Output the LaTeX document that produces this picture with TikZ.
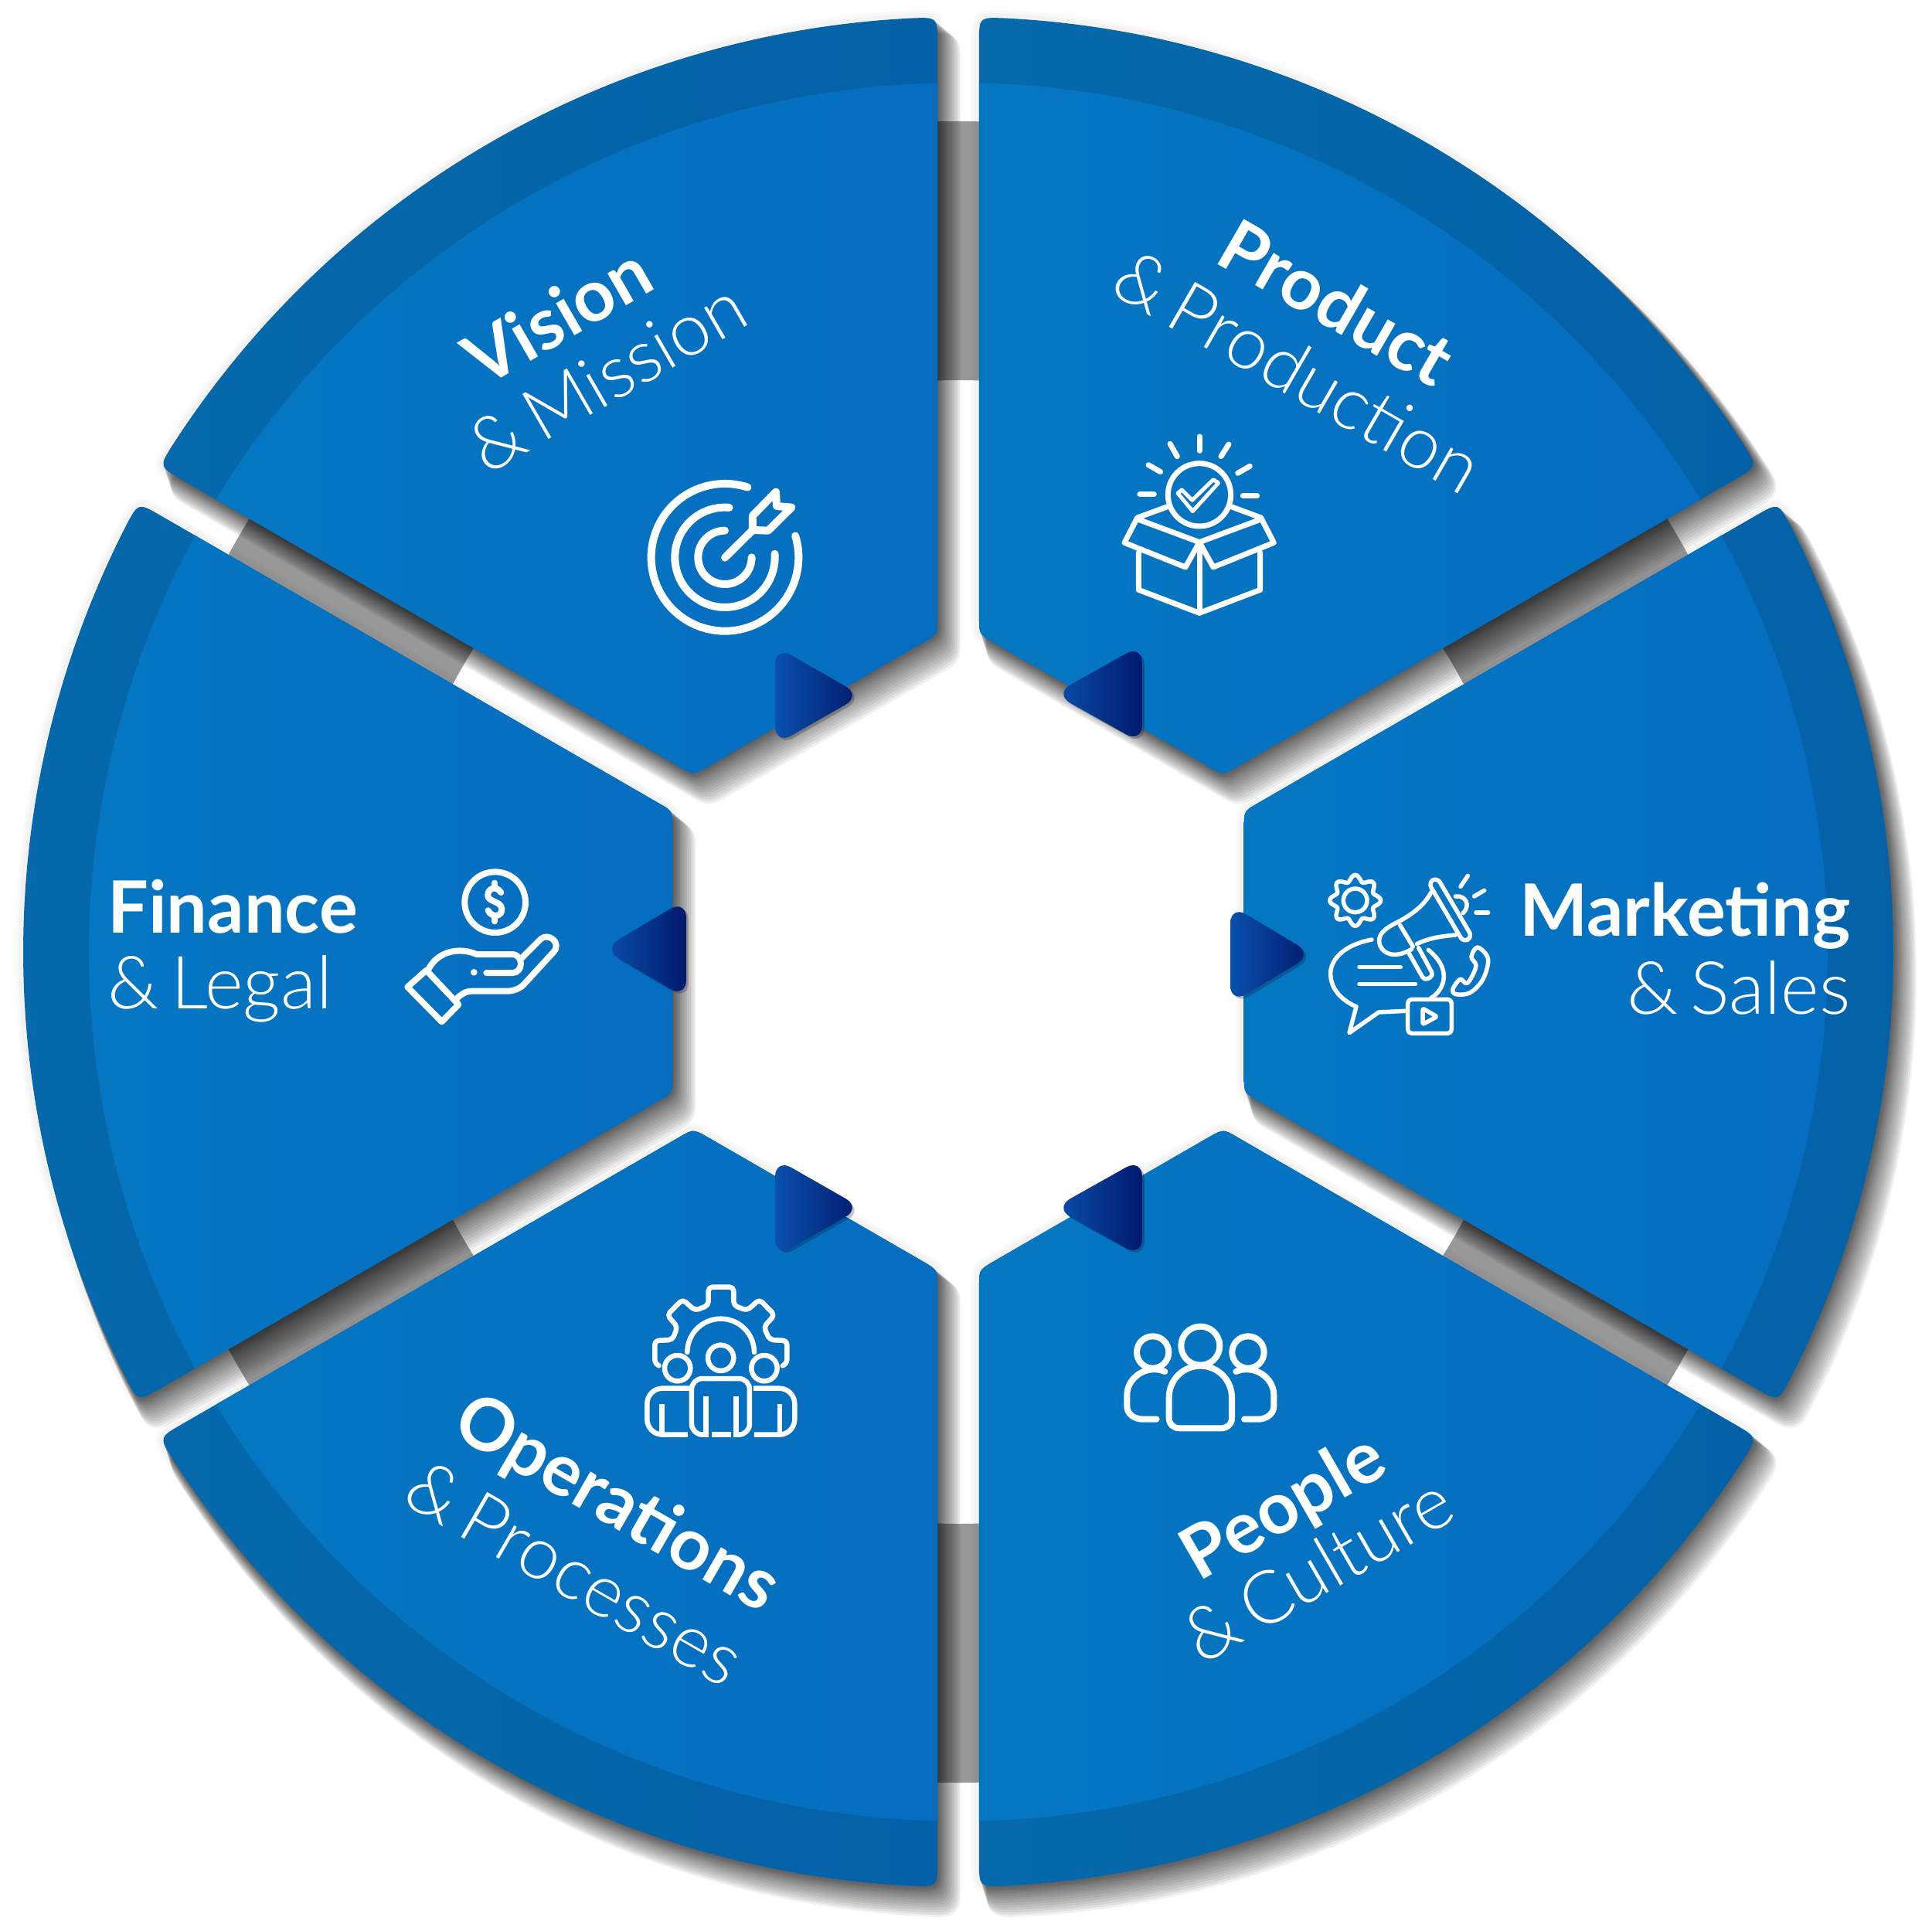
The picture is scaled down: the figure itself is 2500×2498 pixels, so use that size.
\documentclass[tikz,border=0pt]{standalone}
\usepackage{fontspec}
\setmainfont{Lato}
\newfontfamily\lblack{Lato Bold}
\newfontfamily\llight{Lato Light}
\definecolor{mainL}{HTML}{0477C2}
\definecolor{mainR}{HTML}{056DC0}
\definecolor{ringL}{HTML}{0569AB}
\definecolor{ringR}{HTML}{0461A7}
\definecolor{triL}{HTML}{0A50AD}
\definecolor{triR}{HTML}{001A6C}
\definecolor{bandgray}{HTML}{989898}
\newcommand{\amper}{\&\kern16pt}
\newcommand{\petal}[1]{(#1+28.69:1178) .. controls (#1+28.72:1210) .. (#1+27.2:1210) arc[start angle=#1+27.2,end angle=#1-27.2,radius=1210] .. controls (#1-28.72:1210) .. (#1-28.69:1178) -- (#1-26.42:432.5) .. controls (#1-26.25:412.5) .. (#1-23.7:403.7) -- (#1+23.7:403.7) .. controls (#1+26.25:412.5) .. (#1+26.42:432.5) -- cycle}
\newcommand{\core}[1]{(#1+28.625:1125) arc[start angle=#1+28.625,end angle=#1-28.625,radius=1125] -- (#1-26.42:432.5) .. controls (#1-26.25:412.5) .. (#1-23.7:403.7) -- (#1+23.7:403.7) .. controls (#1+26.25:412.5) .. (#1+26.42:432.5) -- cycle}
\tikzset{
  img/.style={shift={(-1240,1232)},y=-1pt},
  icoat/.style 2 args={shift={(#1-1240,1232-#2)},x=0.33333pt,y=-0.33333pt},
  ico/.style={draw=white,line cap=round,line join=round,line width=#1},
  hd/.style={text=white,inner sep=0pt,font=\lblack\fontsize{93.5}{105}\selectfont},
  lt/.style={text=white,inner sep=0pt,font=\llight\fontsize{95}{105}\selectfont},
  tri/.style={left color=triL,right color=triR,rounded corners=24pt},
  trishadow/.style={fill=black,opacity=.22,rounded corners=24pt}
}
\begin{document}
\begin{tikzpicture}[x=1pt,y=1pt]
\path[use as bounding box,fill=white] (-1240,1232) rectangle (1260,-1266);
% grey ring seen through the gaps
\fill[bandgray,even odd rule] (0,0) circle[radius=1075] (0,0) circle[radius=740];
% faint halo
\foreach \w in {20,12}{
  \begin{scope}[transparency group,opacity=.025]
  \foreach \th in {120,60,0,-60,-120,180}{
    \path[fill=black,draw=black,line join=round,line width=\w pt] \petal{\th};
  }
  \end{scope}
}
% soft shadows: the petals slid right and down in small steps
\foreach \s in {0.06,0.12,0.18,0.25,0.32,0.39,0.46,0.54,0.62,0.70,0.78,0.86,0.93,1.0}{
  \begin{scope}[shift={({\s*20},{-\s*30})},transparency group,opacity=.06]
  \foreach \th in {120,60,0,-60,-120,180}{
    \path[fill=black,draw=black,line join=round,line width={\s*20 pt}] \petal{\th};
  }
  \end{scope}
}
% petals
\foreach \th in {120,60,0,-60,-120,180}{
  \path[left color=ringL,right color=ringR] \petal{\th};
  \path[left color=mainL,right color=mainR] \core{\th};
}
% triangles
\begin{scope}[img]
\newcommand{\trgR}[3]{%
  \path[trishadow,shift={(3,3)}] (#1,#2-64) -- (#1+#3,#2) -- (#1,#2+64) -- cycle;
  \path[tri] (#1,#2-64) -- (#1+#3,#2) -- (#1,#2+64) -- cycle;}
\newcommand{\trgL}[3]{%
  \path[trishadow,shift={(3,3)}] (#1,#2-64) -- (#1-#3,#2) -- (#1,#2+64) -- cycle;
  \path[tri] (#1,#2-64) -- (#1-#3,#2) -- (#1,#2+64) -- cycle;}
\trgR{1003}{900}{112}
\trgL{1478}{898}{114}
\trgR{1592}{1235}{107}
\trgL{888}{1228}{108}
\trgR{1003}{1563}{112}
\trgL{1478}{1563}{114}
% labels
\node[hd,rotate=30]  (visionA) at (721,408) {Vision};
\node[lt,rotate=30]  (visionB) at (785,487) {\amper Mission};
\node[hd,rotate=-30] (productA) at (1730,391) {Product};
\node[lt,rotate=-30] (productB) at (1680,480) {\amper Production};
\node[hd,anchor=base east] (marketA) at (2395,1211) {Marketing};
\node[lt,anchor=base east] (marketB) at (2395,1312) {\amper Sales};
\node[hd,anchor=base west] (financeA) at (139,1207) {Finance};
\node[lt,anchor=base west] (financeB) at (139,1305) {\amper Legal};
\node[hd,rotate=-30] (opsA) at (797,1948) {Operations};
\node[lt,rotate=-30] (opsB) at (744,2035) {\amper Processes};
\node[hd,rotate=30]  (peopleA) at (1662,1953) {People};
\node[lt,rotate=30]  (peopleB) at (1705,2030) {\amper Culture};
\end{scope}
% target icon
\begin{scope}[icoat={780}{560}]
\draw[ico=10pt] (474,484) ++(-72:286) arc[start angle=-72,end angle=-377,radius=286];
\draw[ico=10pt] (474,484) ++(-85:194) arc[start angle=-85,end angle=-364,radius=194];
\draw[ico=10pt] (474,484) ++(-90:104) arc[start angle=-90,end angle=-360,radius=104];
\draw[ico=10pt] (474,485) -- (582,378);
\draw[ico=10pt] (582,322) -- (672,230) -- (675,285) -- (733,290) -- (642,380) -- (582,378) -- cycle;
\end{scope}
% box icon
\begin{scope}[icoat={1400}{530}]
\draw[ico=7pt] (456,331) circle[radius=122];
\draw[ico=5pt] (372,325) -- (388,312) -- (428,352) -- (510,272) -- (530,285) -- (430,395) -- cycle;
\foreach \p/\q in {{456,105}/{456,160},{342,133}/{370,182},{258,215}/{305,242},{225,330}/{280,330},{540,182}/{570,135},{605,247}/{652,220},{625,335}/{680,335}}{
  \draw[ico=7pt] (\p) -- (\q);}
\draw[ico=7pt] (330,378) -- (215,420) -- (165,517) -- (402,612) -- (456,515) -- (510,612) -- (745,517) -- (695,420) -- (582,378);
\draw[ico=7pt] (222,428) -- (456,515) -- (690,428);
\draw[ico=7pt] (220,555) -- (220,700) -- (456,790) -- (692,700) -- (692,555);
\draw[ico=7pt] (456,515) -- (456,790);
\end{scope}
% marketing icon
\begin{scope}[icoat={1680}{1090}]
\draw[ico=5.5pt] (221,226) circle[radius=46];
\draw[ico=5.5pt,smooth] plot[domain=0:360,samples=97] ({221+(87+12*cos(8*\x))*cos(\x)},{226+(87+12*cos(8*\x))*sin(\x)}) -- cycle;
\draw[ico=5.5pt,rounded corners=7pt] (539,137) -- (675,368) -- (641,388) -- (505,157) -- cycle;
\draw[ico=5.5pt] (515,195) .. controls (490,245) and (440,280) .. (395,305) .. controls (345,330) and (312,350) .. (314,385) .. controls (316,425) and (365,460) .. (440,415);
\draw[ico=5.5pt] (460,395) .. controls (510,370) and (560,365) .. (610,360);
\draw[ico=5.5pt] (395,322) -- (445,405);
\draw[ico=5.5pt,rounded corners=5pt] (430,432) -- (490,537) -- (525,517) -- (467,410);
\draw[ico=5.5pt] (610,210) .. controls (650,205) and (670,245) .. (640,275);
\foreach \p/\q in {{630,172}/{658,130},{683,210}/{722,187},{690,273}/{737,273},{237,485}/{397,485},{237,550}/{455,550}}{
  \draw[ico=5.5pt] (\p) -- (\q);}
\draw[ico=5.5pt] (285,378) .. controls (170,400) and (125,460) .. (125,510) .. controls (125,570) and (170,615) .. (225,638) -- (198,740) -- (312,660) -- (415,655);
\draw[ico=5.5pt] (505,418) .. controls (550,455) and (565,490) .. (565,520) .. controls (565,560) and (540,590) .. (515,605);
\draw[ico=5.5pt,rounded corners=5pt] (425,610) rectangle (595,742);
\draw[ico=5.5pt,rounded corners=2pt] (483,645) -- (538,677) -- (483,707) -- cycle;
\draw[ico=5.5pt] plot[smooth cycle,tension=.6] coordinates {(695,408) (732,440) (735,480) (712,540) (665,585) (612,590) (600,570) (628,532) (652,548) (672,525) (690,478) (672,445)};
\end{scope}
% hand icon
\begin{scope}[icoat={500}{1090}]
\draw[ico=8pt] (422,233) circle[radius=118];
\draw[ico=8pt] (420,158) -- (420,178);
\draw[ico=8pt] (420,285) -- (420,307);
\draw[ico=8pt] (445,195) .. controls (425,165) and (392,180) .. (394,208) .. controls (396,232) and (445,228) .. (448,258) .. controls (450,290) and (410,295) .. (395,265);
\draw[ico=8pt] (155,497) -- (82,562) -- (215,697) -- (280,630) -- cycle;
\draw[ico=8pt] (165,490) .. controls (200,425) and (280,405) .. (350,435) -- (490,435) .. controls (535,440) and (530,507) .. (490,507) -- (388,507);
\fill[white] (340,505) circle[radius=13];
\draw[ico=8pt] (525,450) -- (600,375) .. controls (630,350) and (680,390) .. (650,425) -- (540,545) .. controls (520,570) and (490,578) .. (470,578) -- (330,578) .. controls (305,578) and (285,595) .. (270,610);
\end{scope}
% operations icon
\begin{scope}[icoat={800}{1640}]
\draw[ico=6.5pt,rounded corners=5pt] (158,382) -- (142,375) -- (142,285) -- (210,282) -- (230,232) -- (190,185) -- (250,125) -- (298,168) -- (350,148) -- (350,77) -- (448,77) -- (448,148) -- (500,168) -- (548,125) -- (607,185) -- (565,232) -- (588,282) -- (655,285) -- (655,375) -- (638,382);
\draw[ico=6.5pt] (268,330) arc[start angle=-180,end angle=0,radius=130];
\foreach \c in {{230,392},{398,352},{567,392}}{\draw[ico=6.5pt] (\c) circle[radius=50];}
\draw[ico=6.5pt,rounded corners=14pt,line cap=butt] (345,650) -- (285,650) -- (285,432) -- (510,432) -- (510,650) -- (450,650);
\draw[ico=6.5pt,line cap=butt] (362,650) -- (438,650);
\draw[ico=6.5pt,line cap=butt] (340,500) -- (340,660);
\draw[ico=6.5pt,line cap=butt] (458,500) -- (458,660);
\draw[ico=6.5pt,line cap=butt,rounded corners=20pt] (270,650) -- (112,650) -- (112,470) -- (280,470);
\draw[ico=6.5pt,line cap=butt] (170,530) -- (170,650);
\draw[ico=6.5pt,line cap=butt,rounded corners=20pt] (528,650) -- (685,650) -- (685,470) -- (525,470);
\draw[ico=6.5pt,line cap=butt] (627,530) -- (627,650);
\end{scope}
% people icon
\begin{scope}[icoat={1430}{1700}]
\draw[ico=8pt] (370,125) circle[radius=75];
\draw[ico=8pt] (185,150) circle[radius=62];
\draw[ico=8pt] (555,150) circle[radius=62];
\draw[ico=8pt] (248,325) arc[start angle=-180,end angle=0,radius=122] -- (492,405) .. controls (492,430) and (475,445) .. (450,445) -- (290,445) .. controls (265,445) and (248,430) .. (248,405) -- cycle;
\draw[ico=8pt] (232,225) .. controls (160,195) and (85,250) .. (85,315) -- (85,360) .. controls (85,390) and (115,410) .. (145,410) -- (200,410);
\draw[ico=8pt] (508,225) .. controls (580,195) and (655,250) .. (655,315) -- (655,360) .. controls (655,390) and (625,410) .. (595,410) -- (540,410);
\end{scope}
\end{tikzpicture}
\end{document}
